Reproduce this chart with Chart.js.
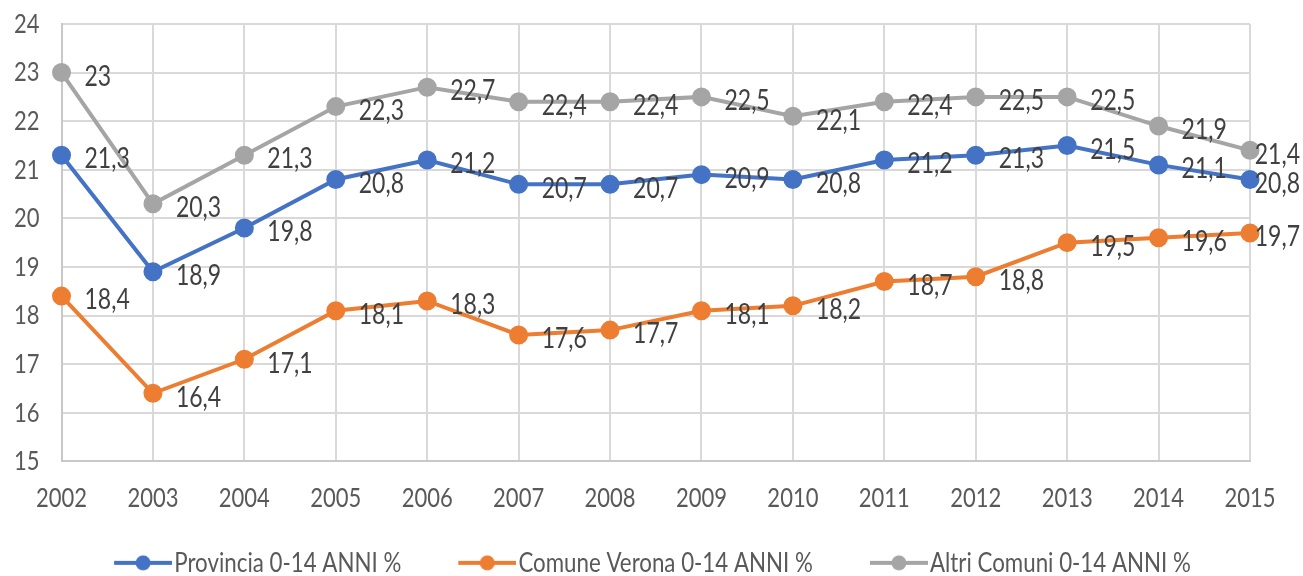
<!DOCTYPE html>
<html>
<head>
<meta charset="utf-8">
<script src="https://cdn.jsdelivr.net/npm/chart.js@4/dist/chart.umd.min.js"></script>
<style>
html,body{margin:0;padding:0;background:#fff;}
#wrap{width:1303px;height:576px;}
</style>
</head>
<body>
<div id="wrap"><canvas id="c" width="1303" height="576"></canvas></div>
<script>
const years = ['2002','2003','2004','2005','2006','2007','2008','2009','2010','2011','2012','2013','2014','2015'];
const provincia = [21.3, 18.9, 19.8, 20.8, 21.2, 20.7, 20.7, 20.9, 20.8, 21.2, 21.3, 21.5, 21.1, 20.8];
const comuneVerona = [18.4, 16.4, 17.1, 18.1, 18.3, 17.6, 17.7, 18.1, 18.2, 18.7, 18.8, 19.5, 19.6, 19.7];
const altriComuni = [23, 20.3, 21.3, 22.3, 22.7, 22.4, 22.4, 22.5, 22.1, 22.4, 22.5, 22.5, 21.9, 21.4];
const seriesNames = ['Provincia 0-14 ANNI %', 'Comune Verona 0-14 ANNI %', 'Altri Comuni 0-14 ANNI %'];
const colors = ['#4472C4', '#ED7D31', '#A5A5A5'];

const FONT = 'Lato, "Open Sans", sans-serif';
const TEXT_STRETCH = 1.25;
const LEG_FS = 22.3;
const LEG_PAD = 8;
const LINE_W = 58;
const PW = 106 - LEG_PAD;
const IMG_W = Math.round(PW + LEG_FS - 4);
const LEGEND_SHIFT_X = 7;
const LEGEND_SHIFT_Y = 8;

function legendIcon(color){
  const cv = document.createElement('canvas');
  cv.width = IMG_W; cv.height = 18;
  const g = cv.getContext('2d');
  g.strokeStyle = color; g.lineWidth = 4; g.lineCap = 'butt';
  g.beginPath(); g.moveTo(IMG_W - LINE_W, 9); g.lineTo(IMG_W, 9); g.stroke();
  g.fillStyle = color;
  g.beginPath(); g.arc(IMG_W - LINE_W / 2, 9, 7.5, 0, Math.PI*2); g.fill();
  return cv;
}
const icons = colors.map(legendIcon);

// make text glyphs taller (narrow look of the original font)
const tallText = {
  id: 'tallText',
  beforeInit(chart){
    const ctx = chart.ctx;
    if (ctx.__tall) return;
    const orig = ctx.fillText.bind(ctx);
    ctx.fillText = function(t, x, y, mw){
      ctx.save();
      ctx.translate(x, y);
      ctx.scale(1, TEXT_STRETCH);
      if (mw === undefined) orig(t, 0, 0); else orig(t, 0, 0, mw);
      ctx.restore();
    };
    ctx.__tall = true;
  }
};

const valueLabels = {
  id: 'valueLabels',
  afterDatasetsDraw(chart){
    const ctx = chart.ctx;
    ctx.save();
    ctx.font = '23px ' + FONT;
    ctx.fillStyle = '#404040';
    ctx.textAlign = 'left';
    ctx.textBaseline = 'middle';
    chart.data.datasets.forEach((ds, i) => {
      const meta = chart.getDatasetMeta(i);
      meta.data.forEach((pt, j) => {
        const txt = String(ds.data[j]).replace('.', ',');
        const w = ctx.measureText(txt).width;
        const x = Math.min(pt.x + 23, chart.width - w - 3);
        ctx.fillText(txt, x, pt.y + 4);
      });
    });
    ctx.restore();
  }
};

const legendNudge = {
  id: 'legendNudge',
  afterLayout(chart){
    const lg = chart.legend;
    if (!lg) return;
    lg.left += LEGEND_SHIFT_X; lg.right += LEGEND_SHIFT_X;
    lg.top += LEGEND_SHIFT_Y; lg.bottom += LEGEND_SHIFT_Y;
  }
};

const mk = (label, data, color) => ({
  label, data,
  borderColor: color, backgroundColor: color,
  pointBackgroundColor: color, pointBorderColor: color,
  borderWidth: 4, pointRadius: 7.5, pointHoverRadius: 7.5,
  tension: 0, fill: false
});

new Chart(document.getElementById('c'), {
  type: 'line',
  data: {
    labels: years,
    datasets: [
      mk(seriesNames[0], provincia, colors[0]),
      mk(seriesNames[1], comuneVerona, colors[1]),
      mk(seriesNames[2], altriComuni, colors[2])
    ]
  },
  options: {
    responsive: false,
    animation: false,
    layout: { padding: { left: -8, right: 53, top: 0, bottom: 0 } },
    plugins: {
      tooltip: { enabled: false },
      legend: {
        position: 'bottom',
        labels: {
          usePointStyle: true,
          pointStyleWidth: PW,
          padding: LEG_PAD,
          color: '#595959',
          font: { family: FONT, size: LEG_FS },
          generateLabels(chart){
            return chart.data.datasets.map((ds, i) => ({
              text: ds.label,
              pointStyle: icons[i],
              fillStyle: colors[i],
              strokeStyle: colors[i],
              lineWidth: 0,
              fontColor: '#595959',
              datasetIndex: i,
              hidden: false
            }));
          }
        }
      }
    },
    scales: {
      x: {
        offset: false,
        grid: { color: '#D9D9D9', lineWidth: 2, offset: false, drawTicks: false },
        border: { color: '#C8C8C8', width: 2 },
        ticks: { color: '#595959', font: { family: FONT, size: 22 }, padding: 24, maxRotation: 0 }
      },
      y: {
        min: 15, max: 24,
        grid: { color: '#D9D9D9', lineWidth: 2, drawTicks: false },
        border: { color: '#C8C8C8', width: 2 },
        ticks: { stepSize: 1, color: '#595959', font: { family: FONT, size: 22 }, padding: 22 },
        afterFit(scale){ scale.paddingTop = 24; }
      }
    }
  },
  plugins: [tallText, valueLabels, legendNudge]
});
</script>
</body>
</html>
